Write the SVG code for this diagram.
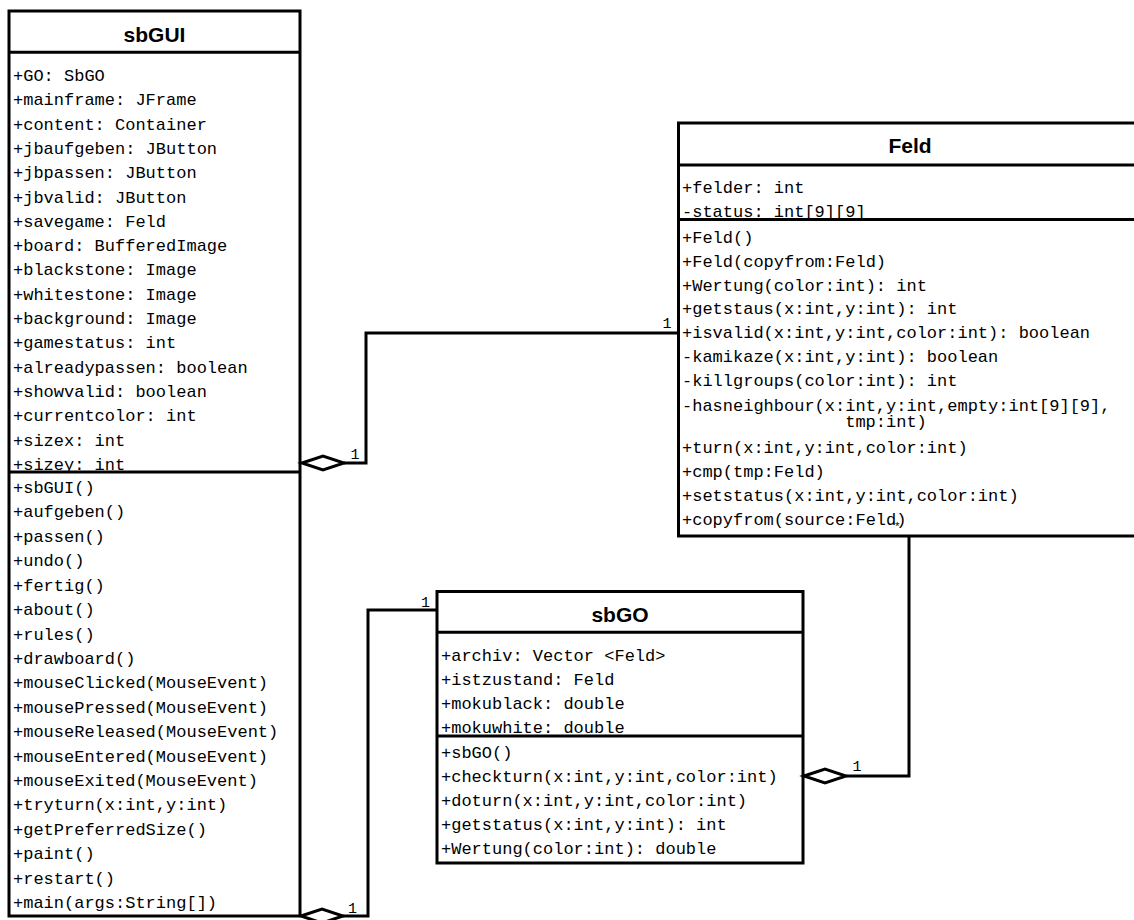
<svg xmlns="http://www.w3.org/2000/svg" width="1134" height="920" viewBox="0 0 1134 920">
<style>
.box{fill:#fff;stroke:#000;stroke-width:3}
.div{stroke:#000;stroke-width:3;fill:none}
.t{font-family:"Liberation Sans",Arial,sans-serif;font-weight:bold;font-size:21px;text-anchor:middle;fill:#000}
.m{font-family:"Liberation Mono","Courier New",monospace;font-size:17px;fill:#000}
.c{stroke:#000;stroke-width:3;fill:none}
.d{stroke:#000;stroke-width:3;fill:#fff;stroke-linejoin:miter}
.n{font-family:"Liberation Mono","Courier New",monospace;font-size:15px;fill:#000;text-anchor:middle}
.s{font-family:"Liberation Mono","Courier New",monospace;font-size:11px;fill:#000}
</style>
<rect width="1134" height="920" fill="#fff"/>
<g id="sbGUI">
<rect class="box" x="9" y="11" width="291" height="905"/>
<text class="t" x="154.5" y="42">sbGUI</text>
<g class="m">
<text x="13" y="81">+GO: SbGO</text>
<text x="13" y="105.3">+mainframe: JFrame</text>
<text x="13" y="129.6">+content: Container</text>
<text x="13" y="153.9">+jbaufgeben: JButton</text>
<text x="13" y="178.2">+jbpassen: JButton</text>
<text x="13" y="202.5">+jbvalid: JButton</text>
<text x="13" y="226.8">+savegame: Feld</text>
<text x="13" y="251.1">+board: BufferedImage</text>
<text x="13" y="275.4">+blackstone: Image</text>
<text x="13" y="299.7">+whitestone: Image</text>
<text x="13" y="324">+background: Image</text>
<text x="13" y="348.3">+gamestatus: int</text>
<text x="13" y="372.6">+alreadypassen: boolean</text>
<text x="13" y="396.9">+showvalid: boolean</text>
<text x="13" y="421.2">+currentcolor: int</text>
<text x="13" y="445.5">+sizex: int</text>
<text x="13" y="469.8">+sizey: int</text>
<text x="13" y="493">+sbGUI()</text>
<text x="13" y="517.4">+aufgeben()</text>
<text x="13" y="541.8">+passen()</text>
<text x="13" y="566.2">+undo()</text>
<text x="13" y="590.6">+fertig()</text>
<text x="13" y="615">+about()</text>
<text x="13" y="639.5">+rules()</text>
<text x="13" y="663.9">+drawboard()</text>
<text x="13" y="688.3">+mouseClicked(MouseEvent)</text>
<text x="13" y="712.7">+mousePressed(MouseEvent)</text>
<text x="13" y="737.1">+mouseReleased(MouseEvent)</text>
<text x="13" y="761.5">+mouseEntered(MouseEvent)</text>
<text x="13" y="785.9">+mouseExited(MouseEvent)</text>
<text x="13" y="810.3">+tryturn(x:int,y:int)</text>
<text x="13" y="834.7">+getPreferredSize()</text>
<text x="13" y="859.2">+paint()</text>
<text x="13" y="883.6">+restart()</text>
<text x="13" y="908">+main(args:String[])</text>
</g>
<line class="div" x1="9" y1="52.3" x2="300" y2="52.3"/>
<line class="div" x1="9" y1="472" x2="300" y2="472"/>
</g>
<g id="Feld">
<rect class="box" x="678.5" y="123" width="463" height="413"/>
<text class="t" x="910" y="152.5">Feld</text>
<g class="m">
<text x="682" y="193">+felder: int</text>
<text x="682" y="217">-status: int[9][9]</text>
<text x="682" y="243">+Feld()</text>
<text x="682" y="267">+Feld(copyfrom:Feld)</text>
<text x="682" y="290.5">+Wertung(color:int): int</text>
<text x="682" y="314">+getstaus(x:int,y:int): int</text>
<text x="682" y="337.5">+isvalid(x:int,y:int,color:int): boolean</text>
<text x="682" y="362">-kamikaze(x:int,y:int): boolean</text>
<text x="682" y="386">-killgroups(color:int): int</text>
<text x="682" y="410.5">-hasneighbour(x:int,y:int,empty:int[9][9],</text>
<text x="845.2" y="426.5">tmp:int)</text>
<text x="682" y="452.5">+turn(x:int,y:int,color:int)</text>
<text x="682" y="476.5">+cmp(tmp:Feld)</text>
<text x="682" y="500.5">+setstatus(x:int,y:int,color:int)</text>
<text x="682" y="525">+copyfrom(source:Feld)</text>
</g>
<line class="div" x1="678.5" y1="165" x2="1141" y2="165"/>
<line class="div" x1="678.5" y1="219.5" x2="1141" y2="219.5"/>
</g>
<g id="sbGO">
<rect class="box" x="437" y="591.5" width="366" height="271.5"/>
<text class="t" x="620" y="622">sbGO</text>
<g class="m">
<text x="441" y="661">+archiv: Vector &lt;Feld&gt;</text>
<text x="441" y="685">+istzustand: Feld</text>
<text x="441" y="709">+mokublack: double</text>
<text x="441" y="733">+mokuwhite: double</text>
<text x="441" y="758">+sbGO()</text>
<text x="441" y="782">+checkturn(x:int,y:int,color:int)</text>
<text x="441" y="806">+doturn(x:int,y:int,color:int)</text>
<text x="441" y="830">+getstatus(x:int,y:int): int</text>
<text x="441" y="854">+Wertung(color:int): double</text>
</g>
<line class="div" x1="437" y1="632.3" x2="803" y2="632.3"/>
<line class="div" x1="437" y1="736" x2="803" y2="736"/>
</g>
<g id="connectors">
<path class="c" d="M344 463 H366 V333 H678.5"/>
<polygon class="d" points="302,463 323,456 344,463 323,470"/>
<text class="n" x="355" y="459">1</text>
<text class="n" x="667" y="328">1</text>
<path class="c" d="M343 916 H368 V610 H437"/>
<polygon class="d" points="301,916 322,909 343,916 322,923"/>
<text class="n" x="352.5" y="913">1</text>
<text class="n" x="425.5" y="607">1</text>
<path class="c" d="M846 776 H909 V536"/>
<polygon class="d" points="804,776 825,769 846,776 825,783"/>
<text class="n" x="857" y="771">1</text>
<text class="s" x="894" y="530">*</text>
</g>
</svg>
